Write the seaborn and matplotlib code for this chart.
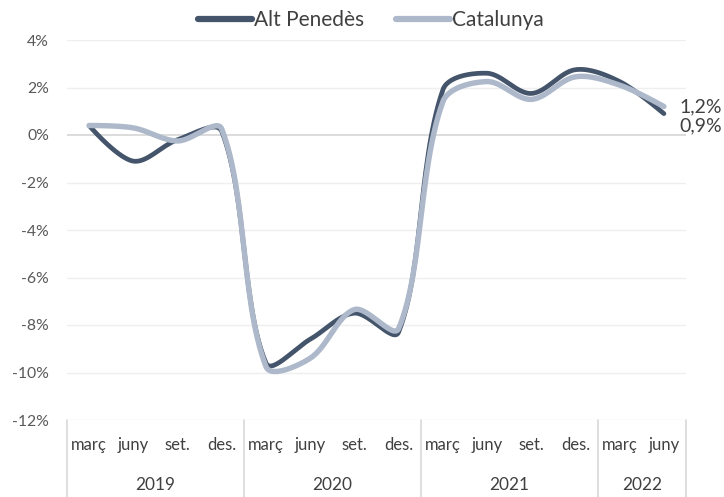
import numpy as np
import pandas as pd
import matplotlib.pyplot as plt
import matplotlib.transforms as mtransforms
from matplotlib.lines import Line2D
import seaborn as sns

# quarterly change, 2019 Q1 .. 2022 Q2
months = ["març", "juny", "set.", "des."] * 3 + ["març", "juny"]
years = ["2019", "2020", "2021", "2022"]
quarters_per_year = [4, 4, 4, 2]
alt_penedes = [0.4, -1.1, -0.2, 0.15, -9.6, -8.6, -7.5, -8.3, 1.9, 2.6, 1.75, 2.75, 2.25, 0.9]
catalunya = [0.4, 0.3, -0.25, 0.25, -9.75, -9.4, -7.35, -8.15, 1.4, 2.25, 1.5, 2.45, 2.1, 1.2]

dark = "#44546a"
light = "#adb9ca"

# screen scale (px per category step, px per percent) used for the smoothing
PX_X, PX_Y = 44.2, 23.75


def smooth(values, steps=30, f=1 / 3):
    # bezier smoothing with handles scaled by neighbouring chord lengths
    y = np.asarray(values, dtype=float)
    n = len(y)
    P = np.column_stack([np.arange(n) * PX_X, y * PX_Y])
    h_in = P.copy()
    h_out = P.copy()
    for i in range(1, n - 1):
        d = P[i + 1] - P[i - 1]
        l1 = np.linalg.norm(P[i] - P[i - 1])
        l2 = np.linalg.norm(P[i + 1] - P[i])
        h_in[i] = P[i] - d * f * l1 / (l1 + l2)
        h_out[i] = P[i] + d * f * l2 / (l1 + l2)
    pts = []
    for i in range(n - 1):
        t = np.linspace(0, 1, steps, endpoint=(i == n - 2))[:, None]
        b = ((1 - t) ** 3 * P[i] + 3 * (1 - t) ** 2 * t * h_out[i]
             + 3 * (1 - t) * t ** 2 * h_in[i + 1] + t ** 3 * P[i + 1])
        pts.append(b)
    pts = np.vstack(pts)
    return pts[:, 0] / PX_X, pts[:, 1] / PX_Y


frames = []
for name, vals in [("Alt Penedès", alt_penedes), ("Catalunya", catalunya)]:
    sx, sy = smooth(vals)
    frames.append(pd.DataFrame({"x": sx, "y": sy, "serie": name}))
df = pd.concat(frames, ignore_index=True)

sns.set_style("white")
plt.rcParams["font.family"] = ["Lato", "DejaVu Sans"]

fig = plt.figure(figsize=(7.24, 4.97), dpi=100)
ax = fig.add_axes([67 / 724, 1 - 420 / 497, (686 - 67) / 724, (420 - 40) / 497])

sns.lineplot(data=df, x="x", y="y", hue="serie", palette={"Alt Penedès": dark, "Catalunya": light},
             linewidth=3.6, ax=ax, legend=False, sort=False, estimator=None)
for ln, w in zip(ax.lines, [3.4, 3.9]):
    ln.set_linewidth(w)
    ln.set_solid_capstyle("round")

ax.set_xlim(-0.5, len(months) - 0.5)
ax.set_ylim(-12, 4)
yt = np.arange(-12, 5, 2)
ax.set_yticks(yt)
ax.set_yticklabels([f"{v}%" for v in yt], fontsize=11.3, color="#595959")
ax.tick_params(axis="y", length=0, pad=13)
for v in yt:
    ax.axhline(v, color="#d9d9d9" if v == 0 else "#efefef", lw=1.3 if v == 0 else 1, zorder=0)

ax.set_xticks(range(len(months)))
ax.set_xticklabels(months, fontsize=12, color="#404040")
ax.tick_params(axis="x", length=0, pad=12)
ax.set_xlabel("")
ax.set_ylabel("")
for s in ax.spines.values():
    s.set_visible(False)

# two-level category axis: separators and year labels
trans = mtransforms.blended_transform_factory(ax.transData, ax.transAxes)
edges = np.concatenate([[0], np.cumsum(quarters_per_year)]) - 0.5
for e in edges:
    ax.add_line(Line2D([e, e], [0, -0.22], transform=trans, color="#d9d9d9", lw=1.2, clip_on=False))
for i, yr in enumerate(years):
    ax.text((edges[i] + edges[i + 1]) / 2, -0.172, yr, transform=trans, ha="center", va="center",
            fontsize=12.4, color="#404040")

# end labels
last = len(months) - 1
ax.annotate(f"{catalunya[-1]:.1f}%".replace(".", ","), (last, catalunya[-1]), xytext=(11, 0),
            textcoords="offset points", va="center", ha="left", fontsize=14, color="#404040")
ax.annotate(f"{alt_penedes[-1]:.1f}%".replace(".", ","), (last, alt_penedes[-1]), xytext=(11, -9),
            textcoords="offset points", va="center", ha="left", fontsize=14, color="#404040")

handles = [Line2D([], [], color=dark, lw=4.5, solid_capstyle="round"),
           Line2D([], [], color=light, lw=4.5, solid_capstyle="round")]
fig.legend(handles, ["Alt Penedès", "Catalunya"], loc="center", bbox_to_anchor=(371 / 724, 1 - 20 / 497),
           ncol=2, frameon=False, fontsize=15, handlelength=2.6, handletextpad=0.1,
           columnspacing=1.5, labelcolor="#404040")

fig.savefig("out.png", dpi=100)
